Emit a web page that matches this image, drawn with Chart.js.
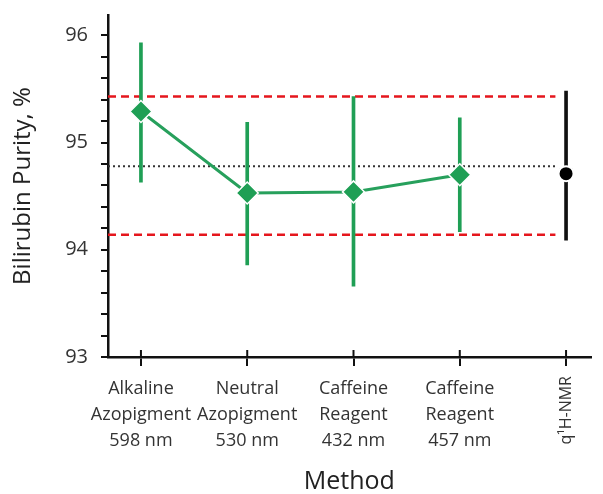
<!DOCTYPE html>
<html>
<head>
<meta charset="utf-8">
<script src="https://cdn.jsdelivr.net/npm/chart.js@4.4.1/dist/chart.umd.min.js"></script>
<style>
html,body{margin:0;padding:0;background:#fff;}
#wrap{width:603px;height:494px;}
</style>
</head>
<body>
<div id="wrap"><canvas id="c" width="603" height="494"></canvas></div>
<script>
// ---- data ----
const categories = [
  ['Alkaline', 'Azopigment', '598 nm'],
  ['Neutral', 'Azopigment', '530 nm'],
  ['Caffeine', 'Reagent', '432 nm'],
  ['Caffeine', 'Reagent', '457 nm'],
  'q¹H-NMR'
];
const methodMeans = [95.29, 94.53, 94.54, 94.70];
const methodLow   = [94.63, 93.86, 93.66, 94.17];
const methodHigh  = [95.93, 95.19, 95.43, 95.23];
const nmrMean = 94.71;
const nmrLow = 94.09;
const nmrHigh = 95.48;
const upperLimit = 95.43;
const lowerLimit = 94.14;
const referenceMean = 94.78;
const yTicksMajor = [93, 94, 95, 96];
const xLabelIndex = [0, 1, 2, 3, 4];

const GREEN = '#1f9f55';
const GREEN_LINE = '#27a05c';
const RED = '#e5161d';
const FONT = "'Open Sans', sans-serif";

const methodPoints = methodMeans.map((v, i) => ({x: xLabelIndex[i], y: v}));
const errorBars = methodLow.map((lo, i) => ({x: xLabelIndex[i], y: [lo, methodHigh[i]]}))
  .concat([{x: xLabelIndex[4], y: [nmrLow, nmrHigh]}]);
const errorColors = methodLow.map(() => GREEN).concat(['#111']);

const lineEnd = 3.9;
const xMin = -0.31, xMax = 4.23;

const extraPlugin = {
  id: 'extra',
  afterDraw(chart) {
    const ctx = chart.ctx;
    const xs = chart.scales.x;
    ctx.save();
    ctx.strokeStyle = '#111';
    ctx.lineWidth = 2;
    xs.ticks.forEach(t => {
      const px = xs.getPixelForValue(t.value);
      ctx.beginPath();
      ctx.moveTo(px, xs.top - 7);
      ctx.lineTo(px, xs.top);
      ctx.stroke();
    });
    const px = xs.getPixelForValue(4);
    ctx.translate(px, xs.top + 19);
    ctx.rotate(-Math.PI / 2);
    ctx.fillStyle = '#333';
    ctx.font = "16px " + FONT;
    ctx.textAlign = 'right';
    ctx.textBaseline = 'middle';
    ctx.fillText(categories[4], 0, 0);
    ctx.restore();
  }
};

new Chart(document.getElementById('c'), {
  type: 'line',
  data: {
    datasets: [
      {
        label: 'methods',
        data: methodPoints,
        borderColor: GREEN_LINE,
        borderWidth: 3,
        pointStyle: 'rectRot',
        pointRadius: 11,
        pointBackgroundColor: GREEN,
        pointBorderColor: '#fff',
        pointBorderWidth: 1.5,
        tension: 0,
        order: 0
      },
      {
        label: 'nmr',
        data: [{x: xLabelIndex[4], y: nmrMean}],
        showLine: false,
        pointStyle: 'circle',
        pointRadius: 7.5,
        pointBackgroundColor: '#000',
        pointBorderColor: '#fff',
        pointBorderWidth: 2,
        order: 0
      },
      {
        type: 'bar',
        label: 'errors',
        data: errorBars,
        backgroundColor: errorColors,
        barThickness: 3,
        grouped: false,
        order: 1
      },
      {
        label: 'upper',
        data: [{x: xMin, y: upperLimit}, {x: lineEnd, y: upperLimit}],
        borderColor: RED,
        borderWidth: 2.5,
        borderDash: [8, 5],
        pointRadius: 0,
        order: 2
      },
      {
        label: 'lower',
        data: [{x: xMin, y: lowerLimit}, {x: lineEnd, y: lowerLimit}],
        borderColor: RED,
        borderWidth: 2.5,
        borderDash: [8, 5],
        pointRadius: 0,
        order: 2
      },
      {
        label: 'mean',
        data: [{x: xMin, y: referenceMean}, {x: lineEnd, y: referenceMean}],
        borderColor: '#333',
        borderWidth: 2,
        borderDash: [2, 3],
        pointRadius: 0,
        order: 2
      }
    ]
  },
  options: {
    responsive: false,
    animation: false,
    devicePixelRatio: 1,
    layout: {padding: {left: 0, right: 0, top: 15, bottom: 0}},
    plugins: {legend: {display: false}, tooltip: {enabled: false}},
    scales: {
      x: {
        type: 'linear',
        min: xMin,
        max: xMax,
        offset: false,
        afterFit(s) { s.height = 137; s.paddingLeft = 0; s.paddingRight = 0; },
        border: {display: true, color: '#111', width: 2.5},
        grid: {display: true, offset: false, drawOnChartArea: false, drawTicks: true, tickLength: 9, color: '#111', lineWidth: 2},
        ticks: {
          stepSize: 1,
          includeBounds: false,
          autoSkip: false,
          maxRotation: 0,
          minRotation: 0,
          padding: 10,
          color: '#333',
          font: {family: FONT, size: 18, lineHeight: 1.45},
          callback(value) {
            const i = Math.round(value);
            if (Math.abs(value - i) > 1e-6 || i > 3 || i < 0) return '';
            return categories[i];
          }
        },
        title: {
          display: true,
          text: 'Method',
          color: '#222',
          font: {family: FONT, size: 25, lineHeight: 1.0},
          padding: {top: 0, bottom: 0}
        }
      },
      y: {
        type: 'linear',
        min: 93,
        max: 96.19,
        afterFit(s) { s.width = 108; s.paddingTop = 0; s.paddingBottom = 0; },
        border: {display: true, color: '#111', width: 2.5},
        grid: {display: true, drawOnChartArea: false, drawTicks: true, tickLength: 7, color: '#111', lineWidth: 2},
        ticks: {
          stepSize: 0.2,
          includeBounds: false,
          autoSkip: false,
          padding: 13,
          color: '#333',
          font: {family: FONT, size: 20},
          callback(value) {
            const r = Math.round(value);
            return (Math.abs(value - r) < 1e-6 && yTicksMajor.includes(r)) ? String(r) : '';
          }
        },
        title: {
          display: true,
          text: 'Bilirubin Purity, %',
          color: '#222',
          font: {family: FONT, size: 24, lineHeight: 1.2},
          padding: {top: 9, bottom: 0}
        }
      }
    }
  },
  plugins: [extraPlugin]
});
</script>
</body>
</html>
